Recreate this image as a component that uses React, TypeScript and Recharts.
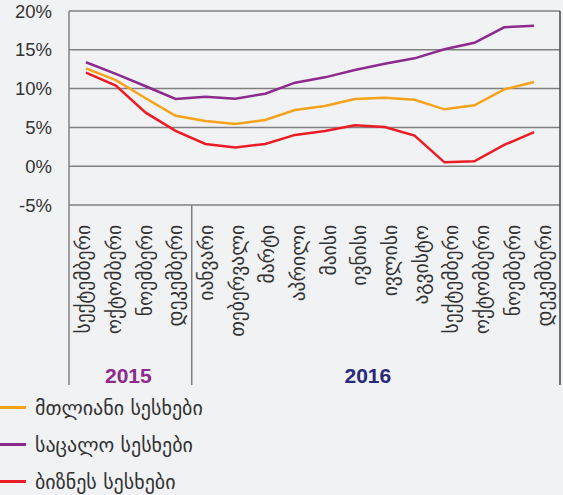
import React from 'react';
import { LineChart, Line, XAxis, YAxis, CartesianGrid, Legend } from 'recharts';

const periods = ['2015-09', '2015-10', '2015-11', '2015-12', '2016-01', '2016-02', '2016-03', '2016-04', '2016-05', '2016-06', '2016-07', '2016-08', '2016-09', '2016-10', '2016-11', '2016-12'];
const monthLabels = ['სექტემბერი', 'ოქტომბერი', 'ნოემბერი', 'დეკემბერი', 'იანვარი', 'თებერვალი', 'მარტი', 'აპრილი', 'მაისი', 'ივნისი', 'ივლისი', 'აგვისტო', 'სექტემბერი', 'ოქტომბერი', 'ნოემბერი', 'დეკემბერი'];
const yearGroups = [
  { label: '2015', first: 0, count: 4, color: '#8e2a8e' },
  { label: '2016', first: 4, count: 12, color: '#27297b' },
];
const yearLabelShift = [-2, -8];
const totalLoans = [12.6, 11.1, 8.75, 6.5, 5.83, 5.44, 5.96, 7.25, 7.76, 8.66, 8.83, 8.57, 7.33, 7.85, 9.9, 10.85];
const retailLoans = [13.4, 11.9, 10.3, 8.66, 8.96, 8.7, 9.34, 10.76, 11.45, 12.4, 13.2, 13.9, 15.06, 15.9, 17.9, 18.1];
const businessLoans = [12.05, 10.4, 6.9, 4.55, 2.87, 2.4, 2.87, 4.03, 4.55, 5.28, 5.06, 3.94, 0.5, 0.64, 2.74, 4.38];
const yTicks = [-5, 0, 5, 10, 15, 20];
const seriesNames = ['მთლიანი სესხები', 'საცალო სესხები', 'ბიზნეს სესხები'];
const seriesColors = ['#f7a21b', '#8c2b8d', '#ed1c24'];

const data = periods.map((p, i) => ({
  period: p,
  total: totalLoans[i],
  retail: retailLoans[i],
  business: businessLoans[i],
}));

const GEO_FONT = '"DejaVu Sans", "Noto Sans", sans-serif';
const LINE_GREY = '#808080';

const MonthTick = (props: any) => {
  const { x, y, payload, index } = props;
  const half = payload && payload.offset ? payload.offset : 15;
  const h = typeof props.height === 'number' ? props.height : 180;
  const i = typeof index === 'number' ? index : payload.index;
  const gi = yearGroups.findIndex((g) => g.first === i);
  const group = gi >= 0 ? yearGroups[gi] : null;
  const isLast = i === periods.length - 1;
  return (
    <g>
      <text
        transform={`translate(${x},${y + 20}) rotate(-90)`}
        textAnchor="end"
        dy="0.3em"
        fontSize={19.5}
        fontFamily={GEO_FONT}
        fill="#333"
      >
        {monthLabels[i]}
      </text>
      {group && (
        <>
          <line x1={x - half} x2={x - half} y1={y} y2={y + h} stroke={LINE_GREY} strokeWidth={1.5} />
          <text
            x={x - half + group.count * half + yearLabelShift[gi]}
            y={y + h - 2}
            textAnchor="middle"
            fontSize={21}
            fontWeight="bold"
            fontFamily='"Liberation Sans", Arial, sans-serif'
            fill={group.color}
          >
            {group.label}
          </text>
        </>
      )}
      {isLast && <line x1={x + half} x2={x + half} y1={y} y2={y + h} stroke="#444" strokeWidth={1.5} />}
    </g>
  );
};

const LegendContent = () => (
  <div style={{ display: 'flex', flexDirection: 'column' }}>
    {seriesNames.map((name, i) => (
      <div key={i} style={{ display: 'flex', alignItems: 'center', height: 37 }}>
        <div style={{ width: 26, height: 3, background: seriesColors[i], marginRight: 9 }} />
        <span style={{ fontFamily: GEO_FONT, fontSize: 20, color: '#333' }}>{name}</span>
      </div>
    ))}
  </div>
);

export default function App() {
  return (
    <div style={{ position: 'absolute', left: 0, top: 0, width: 563, height: 495, background: '#f1f2f4' }}>
      <LineChart width={563} height={495} data={data} margin={{ top: 11, right: 0, left: 0, bottom: 110 }}>
        <CartesianGrid vertical={false} stroke={LINE_GREY} strokeWidth={1.5} xAxisId="main" yAxisId="left" />
        <XAxis xAxisId="main" dataKey="period" hide scale="band" padding={{ left: 2, right: 11 }} height={0} />
        <XAxis
          xAxisId="lab"
          dataKey="period"
          scale="band"
          height={180}
          interval={0}
          axisLine={false}
          tickLine={false}
          tickSize={0}
          tickMargin={0}
          tick={<MonthTick />}
        />
        <YAxis
          yAxisId="left"
          width={69}
          domain={[-5, 20]}
          ticks={yTicks}
          tickFormatter={(v: number) => `${v}%`}
          axisLine={{ stroke: LINE_GREY, strokeWidth: 1.5 }}
          tickLine={false}
          tickSize={0}
          tickMargin={17}
          tick={{ fontSize: 18.5, fill: '#333', fontFamily: '"Liberation Sans", Arial, sans-serif' }}
        />
        <YAxis
          yAxisId="right"
          orientation="right"
          width={3}
          domain={[-5, 20]}
          tick={false}
          tickLine={false}
          axisLine={{ stroke: '#444', strokeWidth: 1.5 }}
        />
        <Line xAxisId="main" yAxisId="left" dataKey="total" name={seriesNames[0]} stroke={seriesColors[0]} strokeWidth={2.5} dot={false} isAnimationActive={false} />
        <Line xAxisId="main" yAxisId="left" dataKey="retail" name={seriesNames[1]} stroke={seriesColors[1]} strokeWidth={2.5} dot={false} isAnimationActive={false} />
        <Line xAxisId="main" yAxisId="left" dataKey="business" name={seriesNames[2]} stroke={seriesColors[2]} strokeWidth={2.5} dot={false} isAnimationActive={false} />
        <Legend
          layout="vertical"
          align="center"
          verticalAlign="middle"
          content={<LegendContent />}
          wrapperStyle={{ left: 0, top: 389, width: 300 }}
        />
      </LineChart>
    </div>
  );
}
